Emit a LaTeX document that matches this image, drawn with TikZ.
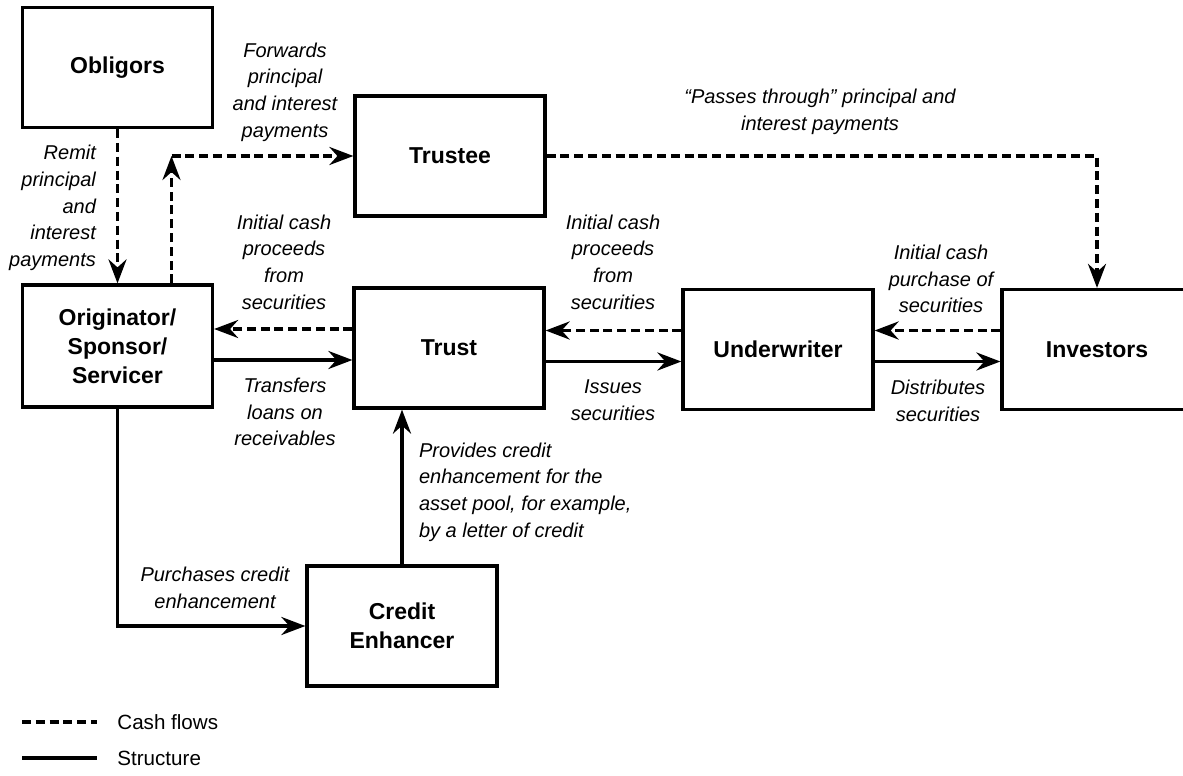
\documentclass[tikz,border=0pt]{standalone}
\usepackage{fontspec}
\setmainfont{Liberation Sans}
\usetikzlibrary{arrows.meta}

\begin{document}
\begin{tikzpicture}[x=0.5pt, y=-0.5pt,
    party/.style={draw, line width=1.6pt, minimum width=95pt, minimum height=60pt,
        align=center, font=\fontsize{11.5}{14.4}\selectfont\bfseries},
    note/.style={align=center, font=\fontsize{10}{13.3}\selectfont\itshape},
    keytext/.style={anchor=west, inner sep=0pt, font=\fontsize{10.3}{12}\selectfont},
    cashline/.style={line width=1.8pt, dash pattern=on 4.5pt off 2.4pt},
    structline/.style={line width=1.8pt},
    tip/.style={-{Stealth[length=12pt, width=9pt, inset=4pt]}},
    cash/.style={cashline, tip},
    struct/.style={structline, tip}]
    \useasboundingbox (0,0) rectangle (1183,776);

    \node[party] (obl) at (117.5,67.5) {Obligors};
    \node[party, minimum height=61pt] (orig) at (117.5,346) {Originator/\\Sponsor/\\Servicer};
    \node[party] (trustee) at (450,156) {Trustee};
    \node[party] (trust) at (449,348) {Trust};
    \node[party] (uw) at (778,349.5) {Underwriter};
    \node[party] (inv) at (1097,349.5) {Investors};
    \node[party] (ce) at (402,626) {Credit\\Enhancer};

    \draw[cash] (obl) -- (orig);
    \coordinate (fwd) at ([xshift=27pt]orig.north |- trustee.west);
    \draw[cash] ([xshift=27pt]orig.north) -- (fwd);
    \draw[cash] (fwd) -- (trustee.west);
    \draw[cash] (trustee.east) -| (inv.north);
    \draw[cash] ([yshift=9.5pt]trust.west) -- ([yshift=9.5pt]trust.west -| orig.east);
    \draw[struct] ([yshift=-6pt]trust.west -| orig.east) -- ([yshift=-6pt]trust.west);
    \draw[cash] ([yshift=9.5pt]uw.west) -- ([yshift=9.5pt]uw.west -| trust.east);
    \draw[struct] ([yshift=-6pt]uw.west -| trust.east) -- ([yshift=-6pt]uw.west);
    \draw[cash] ([yshift=9.5pt]inv.west) -- ([yshift=9.5pt]inv.west -| uw.east);
    \draw[struct] ([yshift=-6pt]inv.west -| uw.east) -- ([yshift=-6pt]inv.west);
    \draw[struct] (ce.north) -- (ce.north |- trust.south);
    \draw[struct] (orig.south) |- (ce.west);

    \node[note] (fwdtext) at (285,92) {Forwards\\principal\\and interest\\payments};
    \node[note, align=right, anchor=east] (remit) at (103,208) {Remit\\principal\\and\\interest\\payments};
    \node[note] (proceeds1) at (284,262) {Initial cash\\proceeds\\from\\securities};
    \node[note] (transfers) at (285,412) {Transfers\\loans on\\receivables};
    \node[note] (proceeds2) at (613,262) {Initial cash\\proceeds\\from\\securities};
    \node[note] (issues) at (613,400) {Issues\\securities};
    \node[note] (purchase) at (941,279) {Initial cash\\purchase of\\securities};
    \node[note] (distrib) at (938,401) {Distributes\\securities};
    \node[note] (passes) at (820,112) {``Passes through'' principal and\\interest payments};
    \node[note, align=left, anchor=west] (provides) at (412,492) {Provides credit\\enhancement for the\\asset pool, for example,\\by a letter of credit};
    \node[note] (buys) at (215,588) {Purchases credit\\enhancement};

    \node[keytext] (cashkey) at (117,722) {Cash flows};
    \node[keytext] (structkey) at (117,758) {Structure};
    \draw[cashline] (22,722) -- ([xshift=-10pt]cashkey.west);
    \draw[structline] (22,758) -- ([xshift=-10pt]structkey.west);
\end{tikzpicture}
\end{document}
